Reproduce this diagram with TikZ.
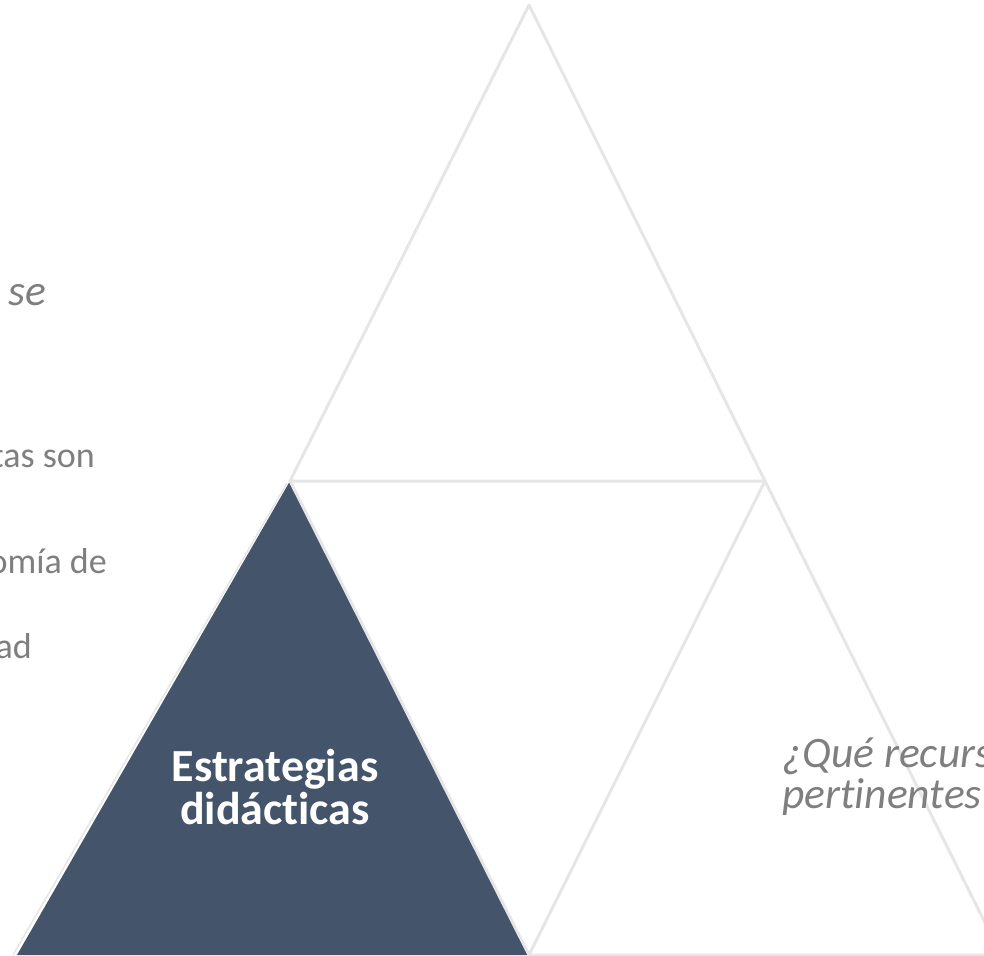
\documentclass[tikz,border=0pt]{standalone}
\usepackage{fontspec}
\setmainfont{Carlito}[Ligatures=NoCommon]
\definecolor{myslate}{HTML}{44546A}
\definecolor{mylightgray}{HTML}{E7E6E6}
\definecolor{mytextgray}{HTML}{7F7F7F}
\usetikzlibrary{positioning}
\tikzset{
	outlinetri/.style={
			draw=mylightgray,
			line width=3pt,
			line join=round
		},
	darktri/.style={
			fill=myslate,
			draw=none
		},
	sidetext/.style={
			text=mytextgray,
			font=\fontsize{36}{42}\selectfont,
			inner sep=0pt
		},
	questiontext/.style={
			sidetext,
			font=\fontsize{43.5}{44}\selectfont\itshape
		},
	titletext/.style={
			text=white,
			font=\fontsize{46}{43}\selectfont\bfseries,
			align=center,
			inner sep=0pt
		}
}

\begin{document}
\begin{tikzpicture}[x=1pt, y=-1pt]
\useasboundingbox (0,0) rectangle (984,955);

\coordinate (top) at (529,5);
\coordinate (midL) at (290,481);
\coordinate (midR) at (765,481);
\coordinate (botM) at (529,955);
\coordinate (botL) at (17,955);
\coordinate (botR) at (1001,955);
\coordinate (edgeL) at (287,483);
\coordinate (edgeB) at (13,955);

% dark corner piece
\fill[darktri] (midL) -- (botL) -- (botM) -- cycle;
\draw[mylightgray, line width=1.5pt] (edgeL) -- (edgeB);

\draw[outlinetri] (top) -- (midL) -- (midR) -- cycle;
\draw[outlinetri] (midL) -- (botM) -- (midR);
\draw[outlinetri] (midR) -- (botR) -- (botM);

\node[titletext] (title) at (275,787) {Estrategias\\didácticas};

\node[questiontext, anchor=base west] (se) at (8,305) {se};
\node[sidetext, anchor=base east] (son) at (95,467) {tas son};
\node[sidetext, anchor=base east] (de) at (107,573) {omía de};
\node[sidetext, anchor=base east] (ad) at (32,658) {ad};

\node[questiontext, anchor=base west] (recurs) at (782,767) {¿Qué recurs};
\node[questiontext, anchor=base west] (pert) at (782,808) {pertinentes};
\end{tikzpicture}
\end{document}
